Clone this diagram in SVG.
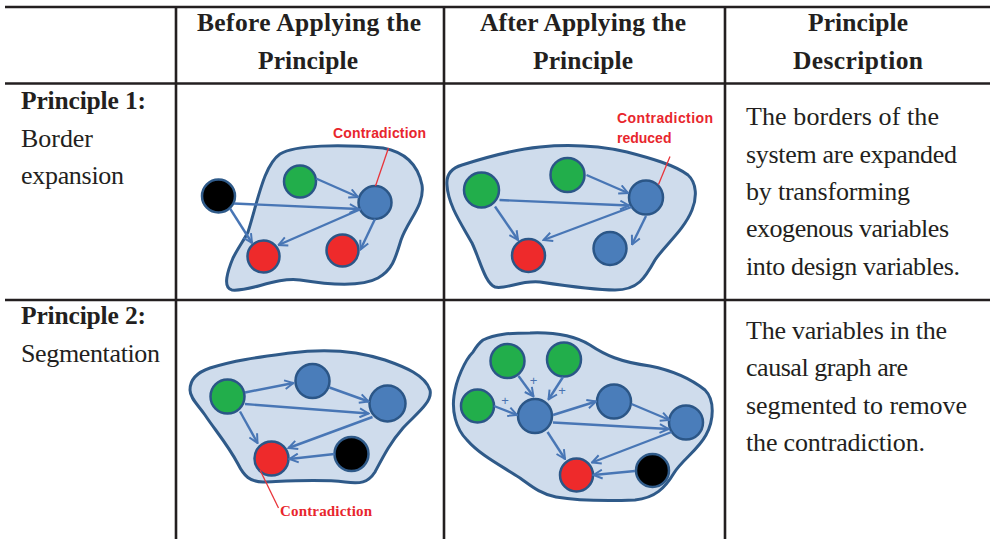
<svg xmlns="http://www.w3.org/2000/svg" width="991" height="539" viewBox="0 0 991 539">
<defs>
<style>
.grid{stroke:#231f20;stroke-width:2.6;fill:none}
.hd{font-family:"Liberation Serif","Times New Roman",serif;font-weight:bold;font-size:25.5px;fill:#231f20;text-anchor:middle}
.lb{font-family:"Liberation Serif","Times New Roman",serif;font-weight:bold;font-size:25.5px;fill:#231f20}
.tx{font-family:"Liberation Serif","Times New Roman",serif;font-size:26px;fill:#231f20}
.blob{fill:#cfdcec;stroke:#2f5a89;stroke-width:3}
.g{fill:#22ae4b;stroke:#2b5687;stroke-width:2.5}
.b{fill:#4a7dba;stroke:#2b5687;stroke-width:2.5}
.r{fill:#ee2a2b;stroke:#2b5687;stroke-width:2.5}
.k{fill:#000;stroke:#2f5a89;stroke-width:2.5}
.ar{stroke:#4876b5;stroke-width:2.4;fill:none;marker-end:url(#ah)}
.rl{stroke:#e8343a;stroke-width:1.3;fill:none}
.cs{font-family:"Liberation Sans",Arial,sans-serif;font-weight:bold;font-size:14px;fill:#e8262d}
.cf{font-family:"Liberation Serif","Times New Roman",serif;font-weight:bold;font-size:15px;fill:#e8262d}
.pl{font-family:"Liberation Sans",Arial,sans-serif;font-size:13px;fill:#4a72b0;text-anchor:middle}
</style>
<marker id="ah" viewBox="0 0 10 10" refX="9" refY="5" markerWidth="11" markerHeight="11" markerUnits="userSpaceOnUse" orient="auto">
<path d="M1,1 L9,5 L1,9" fill="none" stroke="#4876b5" stroke-width="1.8"/>
</marker>
</defs>

<g id="table">
<line class="grid" x1="5" y1="7" x2="990" y2="7" stroke-width="3"/>
<line class="grid" x1="5" y1="83.5" x2="990" y2="83.5"/>
<line class="grid" x1="5" y1="300" x2="990" y2="300"/>
<line class="grid" x1="176" y1="7" x2="176" y2="539"/>
<line class="grid" x1="444" y1="7" x2="444" y2="539"/>
<line class="grid" x1="725" y1="7" x2="725" y2="539"/>
</g>

<g id="headers">
<text class="hd" x="309" y="31" textLength="224">Before Applying the</text>
<text class="hd" x="308" y="69" textLength="100">Principle</text>
<text class="hd" x="583" y="31" textLength="206">After Applying the</text>
<text class="hd" x="583" y="69" textLength="100">Principle</text>
<text class="hd" x="858" y="31" textLength="100">Principle</text>
<text class="hd" x="858" y="69" textLength="130">Description</text>
</g>

<g id="row1-labels">
<text class="lb" x="21" y="109" textLength="125">Principle 1:</text>
<text class="tx" x="21" y="146.5" textLength="72">Border</text>
<text class="tx" x="21" y="184" textLength="103">expansion</text>
<text class="tx" x="746" y="125" textLength="193">The borders of the</text>
<text class="tx" x="746" y="162.5" textLength="211">system are expanded</text>
<text class="tx" x="746" y="200" textLength="164">by transforming</text>
<text class="tx" x="746" y="237" textLength="203">exogenous variables</text>
<text class="tx" x="746" y="274.5" textLength="214">into design variables.</text>
</g>

<g id="row2-labels">
<text class="lb" x="21" y="324" textLength="125">Principle 2:</text>
<text class="tx" x="21" y="362" textLength="139">Segmentation</text>
<text class="tx" x="746" y="338.5" textLength="201">The variables in the</text>
<text class="tx" x="746" y="376" textLength="162">causal graph are</text>
<text class="tx" x="746" y="413.5" textLength="221">segmented to remove</text>
<text class="tx" x="746" y="450.5" textLength="179">the contradiction.</text>
</g>

<!-- Cell 1: before, principle 1 -->
<g id="cell1-system">
<path class="blob" d="M248,232 C258,200 264,165 280,154 C295,145 340,144 383,148 C405,152 418,165 422,185 C425,205 408,220 401,240 C395,260 392,270 378,278 C360,288 325,284 300,280 C275,277 250,292 232,290 C222,288 228,270 233,258 C238,248 244,240 248,232 Z"/>
</g>
<g id="cell1-nodes">
<g id="c1-black"><circle class="k" cx="218.5" cy="196" r="16.5"/></g>
<g id="c1-green"><circle class="g" cx="300" cy="181.5" r="16"/></g>
<g id="c1-blue"><circle class="b" cx="375" cy="202.5" r="16.5"/></g>
<g id="c1-red1"><circle class="r" cx="263.5" cy="256.5" r="16"/></g>
<g id="c1-red2"><circle class="r" cx="342.5" cy="250.5" r="16"/></g>
<g id="c1-label"><text class="cs" x="333" y="138" textLength="93">Contradiction</text></g>
</g>
<g id="cell1-connectors">
<line class="ar" x1="316" y1="178.5" x2="358" y2="197"/>
<line class="ar" x1="234" y1="203.5" x2="358.5" y2="209"/>
<line class="ar" x1="230" y1="208.5" x2="252" y2="243"/>
<line class="ar" x1="361" y1="209" x2="278.5" y2="245"/>
<line class="ar" x1="375" y1="219" x2="360.5" y2="249.5"/>
<line class="rl" x1="388.5" y1="148" x2="375.5" y2="186"/>
</g>

<!-- Cell 2: after, principle 1 -->
<g id="cell2-system">
<path class="blob" d="M447,185 C446,174 452,168 462,165 C490,156 520,149 540,147 C570,144 600,146 627,152 C650,158 675,165 688,175 C697,183 697,198 692,210 C684,230 665,245 655,260 C645,278 638,290 615,290 C595,290 560,285 540,282 C520,280 505,290 495,287 C485,283 480,260 472,243 C462,225 448,205 447,185 Z"/>
</g>
<g id="cell2-nodes">
<g id="c2-green1"><circle class="g" cx="481.5" cy="190" r="17.5"/></g>
<g id="c2-green2"><circle class="g" cx="567.5" cy="175" r="17"/></g>
<g id="c2-blue1"><circle class="b" cx="646" cy="197.5" r="17"/></g>
<g id="c2-red"><circle class="r" cx="528.5" cy="255.5" r="16.5"/></g>
<g id="c2-blue2"><circle class="b" cx="610" cy="248.5" r="16.5"/></g>
<g id="c2-label">
<text class="cs" x="617" y="123" textLength="96">Contradiction</text>
<text class="cs" x="617" y="143">reduced</text>
</g>
</g>
<g id="cell2-connectors">
<line class="ar" x1="586.5" y1="175" x2="628" y2="193"/>
<line class="ar" x1="499.5" y1="200" x2="629" y2="205.5"/>
<line class="ar" x1="495" y1="206.5" x2="518" y2="240"/>
<line class="ar" x1="631.5" y1="207" x2="543.5" y2="240"/>
<line class="ar" x1="646" y1="216" x2="632" y2="244.5"/>
<line class="rl" x1="670" y1="156.5" x2="658.5" y2="184.5"/>
</g>

<!-- Cell 3: before, principle 2 -->
<g id="cell3-system">
<path class="blob" d="M190,390 C190,378 198,372 210,368 C235,360 260,357 290,353 C320,349 355,350 385,360 C405,367 425,375 430,390 C433,402 415,415 403,428 C390,443 384,455 375,472 C368,483 360,484 345,482 C320,479 290,481 263,482 C250,482 244,476 238,464 C228,445 215,430 205,415 C198,405 190,398 190,390 Z"/>
</g>
<g id="cell3-nodes">
<g id="c3-green"><circle class="g" cx="227.5" cy="396.5" r="17"/></g>
<g id="c3-blue1"><circle class="b" cx="312.5" cy="381" r="17"/></g>
<g id="c3-blue2"><circle class="b" cx="387.5" cy="403.5" r="18"/></g>
<g id="c3-red"><circle class="r" cx="271.5" cy="458.5" r="17"/></g>
<g id="c3-black"><circle class="k" cx="351.5" cy="454" r="17"/></g>
<g id="c3-label"><text class="cf" x="280" y="516" textLength="92">Contradiction</text></g>
</g>
<g id="cell3-connectors">
<line class="ar" x1="245" y1="392.5" x2="293.5" y2="383"/>
<line class="ar" x1="245" y1="404" x2="368.5" y2="413.5"/>
<line class="ar" x1="240" y1="411.5" x2="257.5" y2="443"/>
<line class="ar" x1="329.5" y1="387.5" x2="368.5" y2="401.5"/>
<line class="ar" x1="372.5" y1="417" x2="288.5" y2="448"/>
<line class="ar" x1="334.5" y1="454" x2="289.5" y2="459"/>
<line class="rl" x1="260" y1="470" x2="278.5" y2="508"/>
</g>

<!-- Cell 4: after, principle 2 -->
<g id="cell4-system">
<path class="blob" d="M483,340 C495,334 510,333 530,333 C555,332 575,336 590,345 C605,355 620,362 650,366 C670,370 690,378 705,390 C715,400 714,420 706,435 C698,450 682,460 674,473 C665,488 655,498 635,500 C610,501 580,501 556,497 C540,494 530,485 520,478 C500,465 480,455 467,440 C455,428 452,410 454,396 C456,380 465,360 473,352 C476,347 479,343 483,340 Z"/>
</g>
<g id="cell4-nodes">
<g id="c4-green1"><circle class="g" cx="507.5" cy="361" r="17"/></g>
<g id="c4-green2"><circle class="g" cx="564" cy="359.5" r="17"/></g>
<g id="c4-green3"><circle class="g" cx="477.5" cy="406" r="16.5"/></g>
<g id="c4-blue-c"><circle class="b" cx="535" cy="416" r="17"/></g>
<g id="c4-blue-m"><circle class="b" cx="614" cy="401.5" r="17"/></g>
<g id="c4-blue-r"><circle class="b" cx="686" cy="422.5" r="17"/></g>
<g id="c4-red"><circle class="r" cx="576.5" cy="475" r="16.5"/></g>
<g id="c4-black"><circle class="k" cx="652.5" cy="470.5" r="16.5"/></g>
<g id="c4-plus">
<text class="pl" x="533.5" y="384.5">+</text>
<text class="pl" x="562" y="395">+</text>
<text class="pl" x="505" y="404.5">+</text>
</g>
</g>
<g id="cell4-connectors">
<line class="ar" x1="518.5" y1="376" x2="533.5" y2="396.5"/>
<line class="ar" x1="563" y1="377" x2="548.5" y2="399.5"/>
<line class="ar" x1="494" y1="406" x2="517" y2="415"/>
<line class="ar" x1="553" y1="415" x2="596" y2="401.5"/>
<line class="ar" x1="553" y1="422.5" x2="668.5" y2="429"/>
<line class="ar" x1="631.5" y1="404" x2="669.5" y2="420"/>
<line class="ar" x1="547.5" y1="432" x2="565" y2="459"/>
<line class="ar" x1="671.5" y1="432" x2="592" y2="462.5"/>
<line class="ar" x1="635" y1="471" x2="593.5" y2="475"/>
</g>
</svg>
